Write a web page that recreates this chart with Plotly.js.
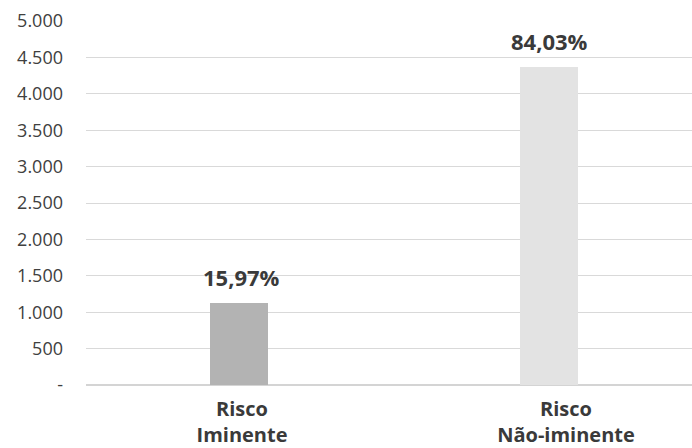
<!DOCTYPE html>
<html>
<head>
<meta charset="utf-8">
<script src="https://cdn.plot.ly/plotly-3.0.1.min.js"></script>
<style>html,body{margin:0;padding:0;background:#fff;}#chart{width:692px;height:448px;}</style>
</head>
<body>
<div id="chart"></div>
<script>
const categories = ["Risco<br>Iminente", "Risco<br>Não-iminente"];
const values = [1130, 4364];
const percentLabels = ["15,97%", "84,03%"];
const barColors = ["#b3b3b3", "#e3e3e3"];
const yTickVals = [0, 500, 1000, 1500, 2000, 2500, 3000, 3500, 4000, 4500, 5000];
const yTickText = ["-", "500", "1.000", "1.500", "2.000", "2.500", "3.000", "3.500", "4.000", "4.500", "5.000"];

// visual alignment (bars sit slightly left of their labels in the reference)
const barOffsets = [-0.0988, -0.142];
const barWidth = 0.179;
const labelXShift = [-1, -17];

const trace = {
  type: "bar",
  x: categories,
  y: values,
  marker: {color: barColors},
  width: barWidth,
  offset: barOffsets,
  hoverinfo: "none"
};

const annotations = categories.map((c, i) => ({
  x: c, y: values[i], xref: "x", yref: "y",
  text: "<b>" + percentLabels[i] + "</b>",
  showarrow: false,
  xanchor: "center", yanchor: "middle",
  xshift: labelXShift[i], yshift: 26,
  font: {family: "Open Sans", size: 22, color: "#3a3a3a"}
}));

const layout = {
  width: 692, height: 448,
  margin: {l: 86, r: 0, t: 21, b: 63},
  paper_bgcolor: "#ffffff",
  plot_bgcolor: "#ffffff",
  showlegend: false,
  bargap: 0,
  xaxis: {
    type: "category",
    range: [-0.4815, 1.3889],
    showgrid: false, zeroline: false, showline: false,
    ticks: "",
    ticklabelstandoff: 10,
    tickfont: {family: "Open Sans", size: 20, color: "#3a3a3a", weight: "bold"},
    fixedrange: true
  },
  yaxis: {
    range: [0, 5000],
    tickvals: yTickVals,
    ticktext: yTickText,
    showgrid: true, gridcolor: "#d9d9d9", gridwidth: 1,
    zeroline: true, zerolinecolor: "#d4d4d4", zerolinewidth: 1.5,
    showline: false,
    ticks: "",
    ticklabelstandoff: 22,
    tickfont: {family: "Open Sans", size: 18, color: "#404040"},
    fixedrange: true
  },
  annotations: annotations
};

Plotly.newPlot("chart", [trace], layout, {displayModeBar: false, staticPlot: true});
</script>
</body>
</html>
